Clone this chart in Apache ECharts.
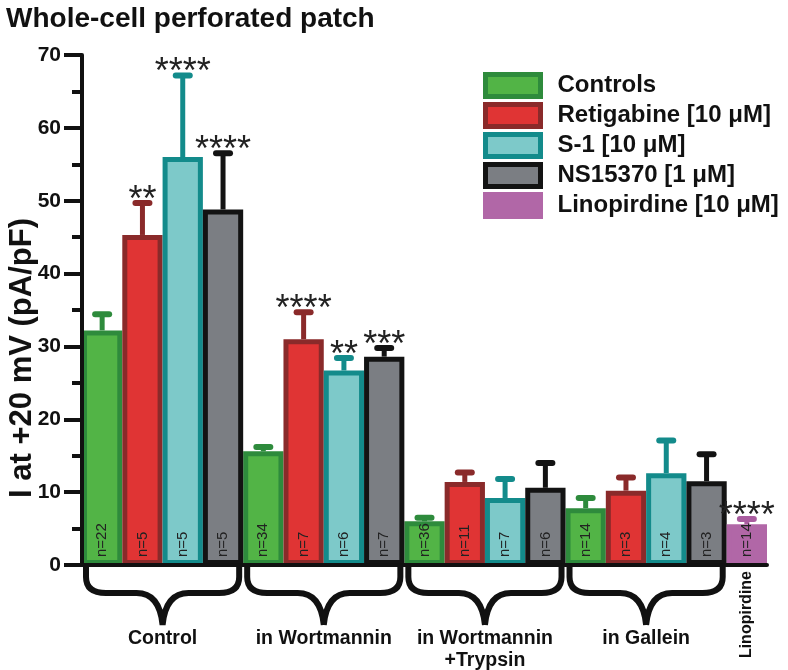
<!DOCTYPE html>
<html><head><meta charset="utf-8">
<script src="https://cdn.jsdelivr.net/npm/echarts@6/dist/echarts.min.js"></script>
<style>html,body{margin:0;padding:0;background:#fff}#c{width:788px;height:670px}</style>
</head><body><div id="c"></div>
<script>
// ---- data ----
const titleText = 'Whole-cell perforated patch';
const yAxisName = 'I at +20 mV (pA/pF)';
const treatmentNames = ['Controls', 'Retigabine [10 μM]', 'S-1 [10 μM]', 'NS15370 [1 μM]', 'Linopirdine [10 μM]'];
const groupLabels = ['Control', 'in Wortmannin', 'in Wortmannin\n+Trypsin', 'in Gallein', 'Linopirdine'];
const slotGroup     = [0, 0, 0, 0, 1, 1, 1, 1, 2, 2, 2, 2, 3, 3, 3, 3, 4];
const slotTreatment = [0, 1, 2, 3, 0, 1, 2, 3, 0, 1, 2, 3, 0, 1, 2, 3, 4];
const means  = [32.2, 45.3, 56.0, 48.8, 15.6, 31.0, 26.7, 28.6, 6.0, 11.4, 9.2, 10.6, 7.8, 10.2, 12.6, 11.5, 5.6];
const errors = [2.2, 4.4, 11.2, 7.7, 0.6, 3.7, 1.7, 1.2, 0.5, 1.3, 2.6, 3.4, 1.4, 1.8, 4.5, 3.7, 0.7];
const nLabels = ['n=22', 'n=5', 'n=5', 'n=5', 'n=34', 'n=7', 'n=6', 'n=7', 'n=36', 'n=11', 'n=7', 'n=6', 'n=14', 'n=3', 'n=4', 'n=3', 'n=14'];
const stars = ['', '**', '****', '****', '', '****', '**', '***', '', '', '', '', '', '', '', '', '****'];
const yMin = 0, yMax = 70, yInterval = 10;

// ---- styles ----
const fillColors = ['#52b446', '#e03434', '#7dc9c9', '#7b7e83', '#b167a7'];
const edgeColors = ['#2e8b3c', '#8a2a2a', '#138b8b', '#131313', '#b167a7'];
const errColors  = ['#2e8b3c', '#8a2a2a', '#138b8b', '#131313', '#a95c9f'];
const FONT = 'Liberation Sans, Arial, sans-serif';

const slots = slotGroup.map((g, i) => groupLabels[g].replace('\n', ' ') + ' / ' + treatmentNames[slotTreatment[i]]);

const barSeries = treatmentNames.map((name, t) => ({
  type: 'bar', name,
  data: means.map((v, i) => slotTreatment[i] === t ? v : '-'),
  barGap: '-100%', barCategoryGap: '0%',
  itemStyle: { color: fillColors[t], borderColor: edgeColors[t], borderWidth: 5 },
  label: {
    show: true, position: 'insideBottom', rotate: 90, align: 'left', verticalAlign: 'middle',
    distance: 8, fontSize: 15, color: '#222', fontFamily: FONT,
    formatter: p => nLabels[p.dataIndex]
  },
  z: 2, animation: false
}));

const groupData = groupLabels.map((g, k) => {
  const idx = slotGroup.map((s, i) => s === k ? i : -1).filter(i => i >= 0);
  return [idx[0], idx[idx.length - 1], k];
});

const option = {
  animation: false,
  textStyle: { fontFamily: FONT },
  title: { text: titleText, left: 1, top: 0, textStyle: { fontSize: 28, fontWeight: 'bold', color: '#111', fontFamily: FONT } },
  legend: {
    orient: 'vertical', left: 478, top: 67, itemWidth: 55, itemHeight: 22, itemGap: 3, selectedMode: false,
    textStyle: { fontSize: 24, fontWeight: 'bold', color: '#111', fontFamily: FONT, padding: [0, 0, 0, 12], lineHeight: 25 },
    data: treatmentNames.map((n, t) => ({ name: n, icon: 'rect', itemStyle: { color: fillColors[t], borderColor: edgeColors[t], borderWidth: 5 } }))
  },
  grid: { left: 82, right: 21, top: 55, bottom: 105, containLabel: false, outerBoundsMode: 'none' },
  xAxis: {
    type: 'category', data: slots, z: 3,
    axisLine: { lineStyle: { color: '#111', width: 4 } },
    axisTick: { show: false }, axisLabel: { show: false }
  },
  yAxis: {
    type: 'value', min: yMin, max: yMax, interval: yInterval, z: 3,
    name: yAxisName, nameLocation: 'middle', nameGap: 44, nameMoveOverlap: false,
    nameTextStyle: { fontSize: 31, fontWeight: 'bold', color: '#111', fontFamily: FONT, padding: [0, 96, 0, 0] },
    axisLine: { show: true, lineStyle: { color: '#111', width: 4 } },
    axisTick: { show: true, length: 18, lineStyle: { color: '#111', width: 4 } },
    minorTick: { show: true, splitNumber: 2, length: 10, lineStyle: { color: '#111', width: 4 } },
    axisLabel: { fontSize: 21, fontWeight: 'bold', color: '#111', margin: 21, fontFamily: FONT },
    splitLine: { show: false }
  },
  series: [
    ...barSeries,
    {
      type: 'custom', z: 1, silent: true,
      data: means.map((m, i) => [i, m, m + errors[i], slotTreatment[i]]),
      encode: { x: 0, y: 2 },
      renderItem: (params, api) => {
        const i = api.value(0);
        const p0 = api.coord([i, api.value(1)]);
        const p1 = api.coord([i, api.value(2)]);
        const c = errColors[api.value(3)];
        return { type: 'group', children: [
          { type: 'line', shape: { x1: p0[0], y1: p0[1], x2: p1[0], y2: p1[1] }, style: { stroke: c, lineWidth: 5 } },
          { type: 'line', shape: { x1: p1[0] - 7, y1: p1[1], x2: p1[0] + 7, y2: p1[1] }, style: { stroke: c, lineWidth: 6, lineCap: 'round' } }
        ] };
      }
    },
    {
      type: 'custom', z: 6, silent: true,
      data: means.map((m, i) => [i, m + errors[i]]),
      encode: { x: 0, y: 1 },
      renderItem: (params, api) => {
        const i = api.value(0);
        const p = api.coord([i, api.value(1)]);
        return { type: 'text', x: p[0], y: p[1] - 2,
          style: { text: stars[i], fontSize: 36, fontFamily: FONT, fill: '#222', align: 'center', verticalAlign: 'middle' } };
      }
    },
    {
      type: 'custom', z: 6, silent: true, clip: false,
      data: groupData,
      encode: { x: 0 },
      renderItem: (params, api) => {
        const s = api.value(0), e = api.value(1), k = api.value(2);
        const band = api.size([1, 0])[0];
        const xs = api.coord([s, 0])[0] - band / 2;
        const xe = api.coord([e, 0])[0] + band / 2;
        const y0 = api.coord([s, 0])[1];
        const mid = (xs + xe) / 2;
        if (s === e) {
          return { type: 'text', x: mid, y: y0 + 6, rotation: Math.PI / 2,
            style: { text: groupLabels[k], align: 'right', verticalAlign: 'middle', fontSize: 16, fontWeight: 'bold', fontFamily: FONT, fill: '#111' } };
        }
        const a = xs + 4, b = xe - 4, h = y0 + 28, tip = y0 + 60;
        const d = `M ${a} ${y0 + 2} L ${a} ${y0 + 12} Q ${a} ${h} ${a + 20} ${h} L ${mid - 26} ${h} Q ${mid - 3} ${h} ${mid} ${tip}` +
                  ` M ${mid} ${tip} Q ${mid + 3} ${h} ${mid + 26} ${h} L ${b - 20} ${h} Q ${b} ${h} ${b} ${y0 + 12} L ${b} ${y0 + 2}`;
        return { type: 'group', children: [
          { type: 'path', shape: { pathData: d }, style: { stroke: '#111', lineWidth: 6, fill: null, lineCap: 'butt' } },
          { type: 'text', x: mid, y: y0 + 63,
            style: { text: groupLabels[k], align: 'center', verticalAlign: 'top', fontSize: 19.5, fontWeight: 'bold', fontFamily: FONT, fill: '#111', lineHeight: 22 } }
        ] };
      }
    }
  ]
};
const chart = echarts.init(document.getElementById('c'), null, { renderer: 'canvas' });
chart.setOption(option);
</script></body></html>
